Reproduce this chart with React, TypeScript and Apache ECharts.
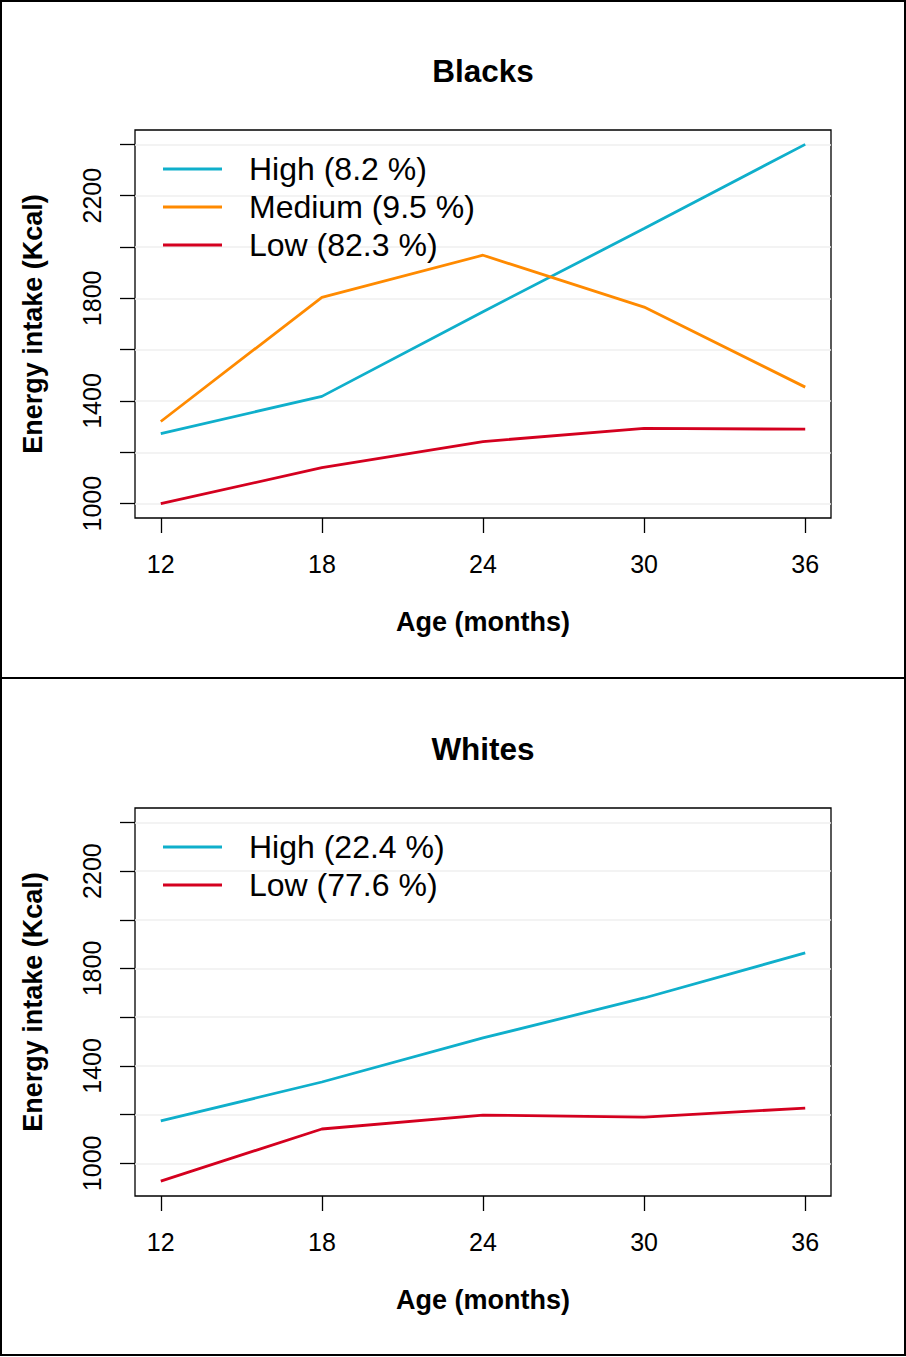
import React, { useEffect, useRef } from "react";
import * as echarts from "echarts";

const ages = [12, 18, 24, 30, 36];
const ageTicks = [12, 18, 24, 30, 36];
const yTicks = [1000, 1200, 1400, 1600, 1800, 2000, 2200, 2400];
const yLabels = [1000, 1400, 1800, 2200];

const blacksHigh = [1273, 1418, 1748, 2072, 2400];
const blacksMedium = [1320, 1804, 1968, 1766, 1454];
const blacksLow = [1000, 1140, 1242, 1293, 1290];

const whitesHigh = [1174, 1334, 1515, 1679, 1864];
const whitesLow = [927, 1141, 1198, 1190, 1227];

const blacksNames = ["High (8.2 %)", "Medium (9.5 %)", "Low (82.3 %)"];
const whitesNames = ["High (22.4 %)", "Low (77.6 %)"];

const CYAN = "#0fafcb";
const ORANGE = "#ff8a00";
const RED = "#d4001f";
const FONT = "'Liberation Sans', Arial, sans-serif";

const pts = (vals: number[]) => ages.map((a, i) => [a, vals[i]]);

export default function App() {
  const ref = useRef<HTMLDivElement>(null);
  useEffect(() => {
    if (!ref.current) return;
    const chart = echarts.init(ref.current, undefined, { renderer: "svg" });

    const grids = [
      { left: 135, top: 130, width: 696, height: 388 },
      { left: 135, top: 808, width: 696, height: 388 },
    ];
    const yRanges = [
      { min: 944, max: 2456 },
      { min: 866, max: 2459 },
    ];

    const xAxis = grids.map((_, i) => ({
      type: "value",
      gridIndex: i,
      min: 11.04,
      max: 36.96,
      axisLine: { show: false },
      axisTick: {
        show: true,
        inside: false,
        length: 15,
        customValues: ageTicks,
        lineStyle: { color: "#000", width: 1.3 },
      },
      axisLabel: {
        customValues: ageTicks,
        margin: 33,
        fontSize: 25,
        color: "#000",
        fontFamily: FONT,
        formatter: (v: number) => String(v),
      },
      splitLine: { show: false },
      name: "Age (months)",
      nameLocation: "middle",
      nameGap: 90,
      nameTextStyle: { fontSize: 27, fontWeight: "bold", color: "#000", fontFamily: FONT },
    }));

    const yAxis = grids.map((_, i) => ({
      type: "value",
      gridIndex: i,
      min: yRanges[i].min,
      max: yRanges[i].max,
      axisLine: { show: false },
      axisTick: {
        show: true,
        inside: false,
        length: 15,
        customValues: yTicks,
        lineStyle: { color: "#000", width: 1.3 },
      },
      axisLabel: {
        customValues: yLabels,
        rotate: 90,
        margin: 31,
        fontSize: 25,
        color: "#000",
        fontFamily: FONT,
        formatter: (v: number) => String(v),
      },
      splitLine: { show: true, lineStyle: { color: "#efefef", width: 1.5 } },
      name: "Energy intake (Kcal)",
      nameLocation: "middle",
      nameGap: 89,
      nameTextStyle: { fontSize: 27, fontWeight: "bold", color: "#000", fontFamily: FONT },
    }));

    const mk = (name: string, vals: number[], color: string, gi: number) => ({
      type: "line",
      name,
      xAxisIndex: gi,
      yAxisIndex: gi,
      data: pts(vals),
      symbol: "none",
      lineStyle: { color, width: 2.8 },
      itemStyle: { color },
    });

    const legendCommon = {
      orient: "vertical",
      left: 158,
      icon: "rect",
      itemWidth: 59,
      itemHeight: 3,
      itemGap: 6,
      selectedMode: false,
      textStyle: { fontSize: 32, color: "#000", fontFamily: FONT, padding: [0, 0, 0, 22] },
    };

    chart.setOption({
      animation: false,
      backgroundColor: "#fff",
      grid: grids.map((g) => ({ ...g, show: true, borderColor: "#000", borderWidth: 1.3, backgroundColor: "transparent" })),
      xAxis,
      yAxis,
      legend: [
        { ...legendCommon, top: 148, data: blacksNames },
        { ...legendCommon, top: 826, data: whitesNames },
      ],
      series: [
        mk(blacksNames[0], blacksHigh, CYAN, 0),
        mk(blacksNames[1], blacksMedium, ORANGE, 0),
        mk(blacksNames[2], blacksLow, RED, 0),
        mk(whitesNames[0], whitesHigh, CYAN, 1),
        mk(whitesNames[1], whitesLow, RED, 1),
      ],
      graphic: [
        {
          type: "rect",
          shape: { x: 1, y: 1, width: 904, height: 677 },
          style: { fill: "none", stroke: "#000", lineWidth: 2 },
          silent: true,
        },
        {
          type: "rect",
          shape: { x: 1, y: 678, width: 904, height: 677 },
          style: { fill: "none", stroke: "#000", lineWidth: 2 },
          silent: true,
        },
        {
          type: "text",
          x: 483,
          y: 71,
          style: {
            text: "Blacks",
            fontSize: 31.5,
            fontWeight: "bold",
            fontFamily: FONT,
            fill: "#000",
            align: "center",
            verticalAlign: "middle",
          },
        },
        {
          type: "text",
          x: 483,
          y: 749,
          style: {
            text: "Whites",
            fontSize: 31.5,
            fontWeight: "bold",
            fontFamily: FONT,
            fill: "#000",
            align: "center",
            verticalAlign: "middle",
          },
        },
      ],
    });
    return () => chart.dispose();
  }, []);

  return (
    <div
      ref={ref}
      style={{ position: "absolute", left: 0, top: 0, width: 906, height: 1357, background: "#fff" }}
    />
  );
}
